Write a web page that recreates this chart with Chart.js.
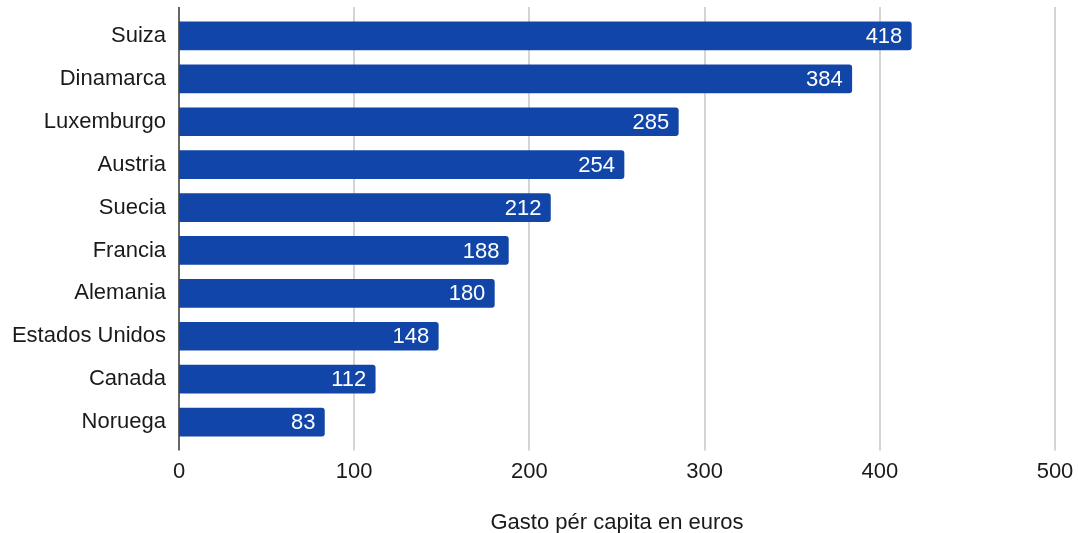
<!DOCTYPE html>
<html>
<head>
<meta charset="utf-8">
<script src="https://cdn.jsdelivr.net/npm/chart.js@4.4.1/dist/chart.umd.min.js"></script>
<style>
html,body{margin:0;padding:0;background:#fff;}
#wrap{width:1078px;height:533px;position:relative;}
</style>
</head>
<body>
<div id="wrap"><canvas id="c" width="1078" height="533"></canvas></div>
<script>
const categories = ["Suiza","Dinamarca","Luxemburgo","Austria","Suecia","Francia","Alemania","Estados Unidos","Canada","Noruega"];
const values = [418,384,285,254,212,188,180,148,112,83];
const xTicks = [0,100,200,300,400,500];
const axisTitle = "Gasto pér capita en euros";

const FONT = "'Liberation Sans', Arial, sans-serif";

const gridPlugin = {
  id: 'gridExt',
  beforeDatasetsDraw(chart) {
    const {ctx, chartArea, scales} = chart;
    const x = scales.x;
    ctx.save();
    xTicks.forEach(v => {
      const px = Math.round(x.getPixelForValue(v));
      ctx.beginPath();
      if (v === 0) { ctx.strokeStyle = '#333333'; ctx.lineWidth = 1.5; }
      else { ctx.strokeStyle = '#d4d4d4'; ctx.lineWidth = 2; }
      ctx.moveTo(px, chartArea.top - 7.5);
      ctx.lineTo(px, chartArea.bottom + 7);
      ctx.stroke();
    });
    ctx.restore();
  }
};

const labelPlugin = {
  id: 'valLabels',
  afterDatasetsDraw(chart) {
    const {ctx} = chart;
    const meta = chart.getDatasetMeta(0);
    ctx.save();
    ctx.fillStyle = '#ffffff';
    ctx.font = "22px " + FONT;
    ctx.textAlign = 'right';
    ctx.textBaseline = 'middle';
    meta.data.forEach((bar, i) => {
      ctx.fillText(String(values[i]), bar.x - 9, bar.y + 1);
    });
    ctx.restore();
  }
};

new Chart(document.getElementById('c'), {
  type: 'bar',
  data: {
    labels: categories,
    datasets: [{
      data: values,
      backgroundColor: '#1146a8',
      borderWidth: 0,
      borderRadius: {topLeft:0,bottomLeft:0,topRight:3,bottomRight:3},
      borderSkipped: 'start',
      barThickness: 28
    }]
  },
  options: {
    indexAxis: 'y',
    responsive: false,
    animation: false,
    devicePixelRatio: 1,
    layout: { padding: { top: 14.5, right: 23, left: 0, bottom: 0 } },
    plugins: { legend: { display: false }, tooltip: { enabled: false } },
    scales: {
      x: {
        type: 'linear',
        min: 0, max: 500,
        afterBuildTicks(scale) { scale.ticks = xTicks.map(v => ({value: v})); },
        afterFit(scale) { scale.height = 89.5; scale.paddingLeft = 0; scale.paddingRight = 0; },
        grid: { display: false, drawTicks: false },
        border: { display: false },
        ticks: { color: '#1a1a1a', font: { family: FONT, size: 22 }, padding: 15 },
        title: { display: true, text: axisTitle, color: '#1a1a1a', font: { family: FONT, size: 22 }, padding: { top: 0, bottom: -3 } }
      },
      y: {
        afterFit(scale) { scale.width = 179; scale.paddingTop = 0; scale.paddingBottom = 0; },
        grid: { display: false, drawTicks: false },
        border: { display: false },
        ticks: { color: '#1a1a1a', font: { family: FONT, size: 22 }, padding: 13 }
      }
    }
  },
  plugins: [gridPlugin, labelPlugin]
});
</script>
</body>
</html>
